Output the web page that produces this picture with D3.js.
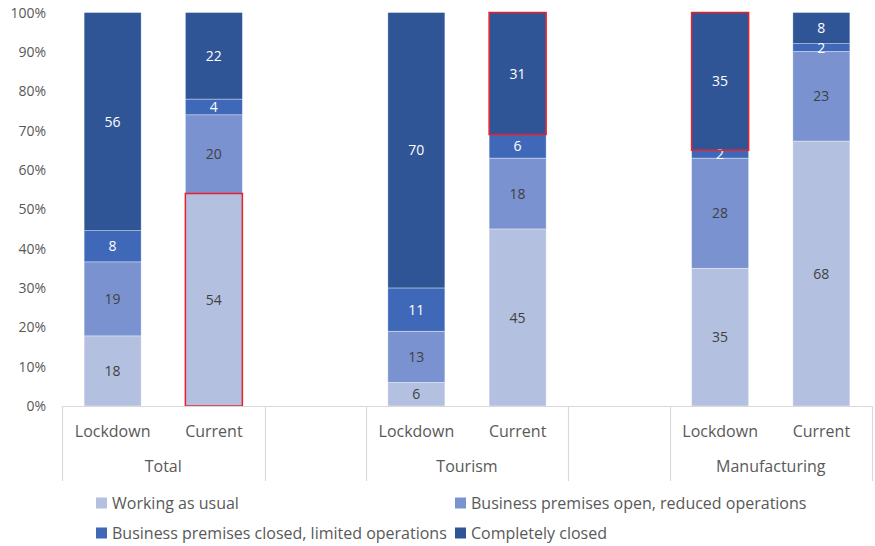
<!DOCTYPE html>
<html><head><meta charset="utf-8">
<script src="https://cdn.jsdelivr.net/npm/d3@7"></script>
<style>body{margin:0;background:#fff}svg{display:block}</style>
</head><body><svg id="c" width="875" height="546"></svg>
<script>
const groups = ["Total", "Tourism", "Manufacturing"];
const periods = ["Lockdown", "Current"];
const seriesNames = ["Working as usual", "Business premises open, reduced operations", "Business premises closed, limited operations", "Completely closed"];
const workingAsUsual   = [18, 54, 6, 45, 35, 68];
const reducedOps       = [19, 20, 13, 18, 28, 23];
const closedLimited    = [8, 4, 11, 6, 2, 2];
const completelyClosed = [56, 22, 70, 31, 35, 8];
const highlighted = [["Total|Current", 0], ["Tourism|Current", 3], ["Manufacturing|Lockdown", 3]];
const yTicks = [0,0.1,0.2,0.3,0.4,0.5,0.6,0.7,0.8,0.9,1];

const colors = ["#B4C0E0", "#7A93D0", "#3F69B8", "#2F5597"];
const labelColors = ["#404040", "#404040", "#ffffff", "#ffffff"];
const font = "Open Sans, 'Noto Sans', sans-serif";

const seriesVals = [workingAsUsual, reducedOps, closedLimited, completelyClosed];
const bars = [];
groups.forEach((g, gi) => periods.forEach((p, pi) => {
  const i = gi * periods.length + pi;
  const row = { key: g + "|" + p, group: g, period: p };
  seriesNames.forEach((s, si) => row[s] = seriesVals[si][i]);
  bars.push(row);
}));
const slots = [];
groups.forEach((g, gi) => {
  periods.forEach(p => slots.push(g + "|" + p));
  if (gi < groups.length - 1) slots.push("gap" + gi);
});

const svg = d3.select("#c");
const mLeft = 62, mRight = 872, mTop = 12.5, mBottom = 406;
const x = d3.scaleBand().domain(slots).range([mLeft, mRight]).paddingInner(0.437).paddingOuter(0.2185);
const y = d3.scaleLinear().domain([0, 1]).range([mBottom, mTop]);

// 100% stacked columns
const stacked = d3.stack().keys(seriesNames).offset(d3.stackOffsetExpand)(bars);

const gBars = svg.append("g");
stacked.forEach((layer, si) => {
  gBars.append("g").selectAll("rect").data(layer).join("rect")
    .attr("x", d => x(d.data.key))
    .attr("width", x.bandwidth())
    .attr("y", d => y(d[1]))
    .attr("height", d => y(d[0]) - y(d[1]))
    .attr("fill", colors[si])
    .attr("stroke", "#ffffff").attr("stroke-width", 0.6).attr("stroke-opacity", 0.6);
});
stacked.forEach((layer, si) => {
  svg.append("g").selectAll("text").data(layer).join("text")
    .attr("x", d => x(d.data.key) + x.bandwidth() / 2)
    .attr("y", d => (y(d[0]) + y(d[1])) / 2)
    .attr("dy", "0.36em")
    .attr("text-anchor", "middle")
    .attr("font-family", font).attr("font-size", 14)
    .attr("fill", labelColors[si])
    .text(d => d.data[seriesNames[si]]);
});
highlighted.forEach(([key, si]) => {
  const d = stacked[si].find(e => e.data.key === key);
  svg.append("rect")
    .attr("x", x(key)).attr("width", x.bandwidth())
    .attr("y", y(d[1])).attr("height", y(d[0]) - y(d[1]))
    .attr("fill", "none").attr("stroke", "#E8202A").attr("stroke-width", 1.5);
});

svg.append("g").selectAll("text").data(yTicks).join("text")
  .attr("x", 46).attr("y", d => y(d)).attr("dy", "0.36em")
  .attr("text-anchor", "end").attr("font-family", font).attr("font-size", 14)
  .attr("fill", "#595959").text(d => d3.format(".0%")(d));

const axisCol = "#D9D9D9";
svg.append("line").attr("x1", mLeft).attr("x2", mRight).attr("y1", mBottom + 0.5).attr("y2", mBottom + 0.5)
  .attr("stroke", axisCol).attr("stroke-width", 1.2);
const step = x.step();
const dividers = [];
groups.forEach((gname) => {
  const first = x(gname + "|" + periods[0]) - x.paddingOuter() * step;
  dividers.push(first, first + periods.length * step);
});
svg.append("g").selectAll("line").data(dividers).join("line")
  .attr("x1", d => Math.round(d) + 0.5).attr("x2", d => Math.round(d) + 0.5)
  .attr("y1", mBottom).attr("y2", 481)
  .attr("stroke", axisCol).attr("stroke-width", 1.2);
svg.append("g").selectAll("text").data(bars).join("text")
  .attr("x", d => x(d.key) + x.bandwidth() / 2).attr("y", 431).attr("dy", "0.36em")
  .attr("text-anchor", "middle").attr("font-family", font).attr("font-size", 16)
  .attr("fill", "#595959").text(d => d.period);
svg.append("g").selectAll("text").data(groups).join("text")
  .attr("x", gname => x(gname + "|" + periods[0]) - x.paddingOuter() * step + periods.length * step / 2)
  .attr("y", 466).attr("dy", "0.36em")
  .attr("text-anchor", "middle").attr("font-family", font).attr("font-size", 16)
  .attr("fill", "#595959").text(d => d);

const legPos = [[96, 503], [455, 503], [96, 533], [455, 533]];
seriesNames.forEach((s, si) => {
  const [lx, ly] = legPos[si];
  svg.append("rect").attr("x", lx).attr("y", ly - 5.5).attr("width", 11).attr("height", 11).attr("fill", colors[si]);
  svg.append("text").attr("x", lx + 16).attr("y", ly).attr("dy", "0.36em")
    .attr("font-family", font).attr("font-size", 16).attr("fill", "#595959").text(s);
});
</script></body></html>
